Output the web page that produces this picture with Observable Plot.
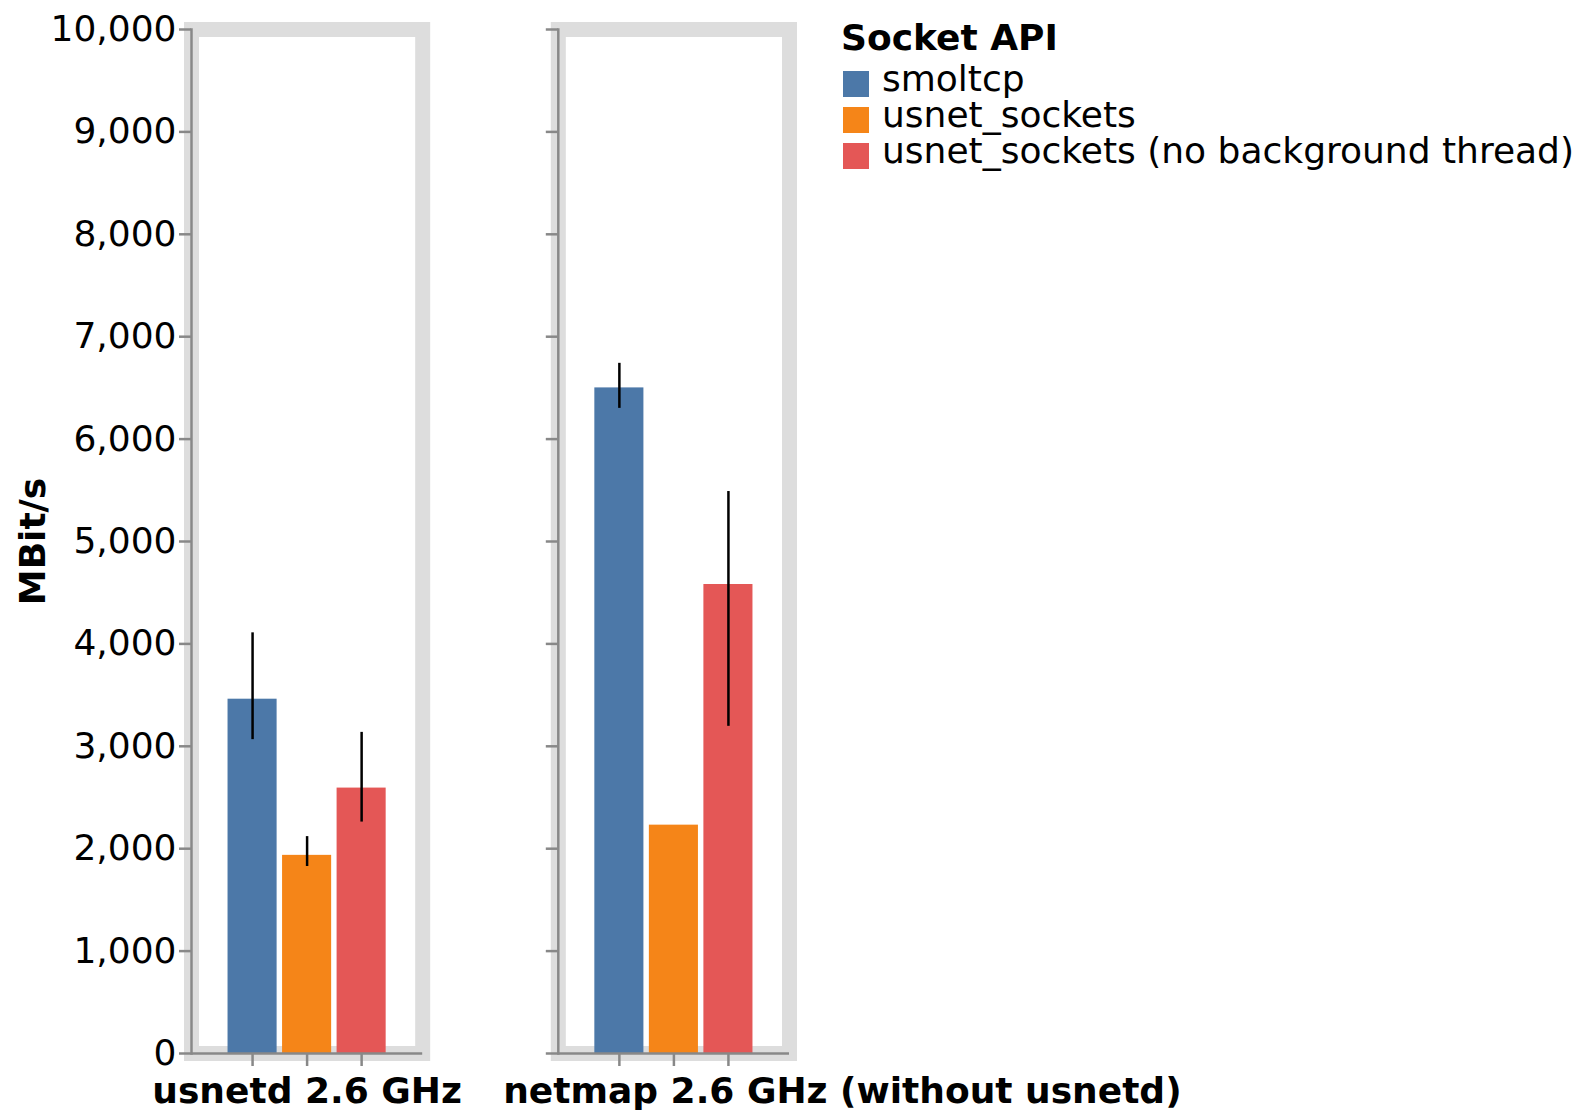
<!DOCTYPE html>
<html>
<head>
<meta charset="utf-8">
<script src="https://cdn.jsdelivr.net/npm/d3@7"></script>
<script src="https://cdn.jsdelivr.net/npm/@observablehq/plot@0.6"></script>
<style>
  body { margin: 0; background: #fff; font-family: "DejaVu Sans"; }
  #chart { position: absolute; left: 0; top: 0; }
  #legend { position: absolute; left: 841px; top: 20px; font-family: "DejaVu Sans"; font-size: 36px; color: #000; }
  #legend .title { font-weight: bold; height: 36px; line-height: 36px; margin-bottom: 5px; white-space: nowrap; }
  #legend .row { display: flex; height: 36px; line-height: 36px; white-space: nowrap; }
  #legend .sw { width: 26px; height: 26px; margin-top: 10px; margin-left: 2px; margin-right: 13px; flex: none; }
</style>
</head>
<body>
<div id="chart"></div>
<div id="legend"></div>
<script>
// ---- data ----
const groups = ["usnetd 2.6 GHz", "netmap 2.6 GHz (without usnetd)"];
const series = ["smoltcp", "usnet_sockets", "usnet_sockets (no background thread)"];
const colors = ["#4c78a8", "#f58518", "#e45756"];

const usnetdMean = [3460, 1935, 2592];
const usnetdLo   = [3065, 1826, 2260];
const usnetdHi   = [4108, 2118, 3136];

const netmapMean = [6500, 2230, 4580];
const netmapLo   = [6300, null, 3195];
const netmapHi   = [6740, null, 5488];

const yTicks = [0, 1000, 2000, 3000, 4000, 5000, 6000, 7000, 8000, 9000, 10000];
const legendTitle = "Socket API";
const yLabel = "MBit/s";

// ---- table ----
const means = [usnetdMean, netmapMean], los = [usnetdLo, netmapLo], his = [usnetdHi, netmapHi];
const rows = groups.flatMap((g, gi) => series.map((s, si) => ({
  group: g, series: s, value: means[gi][si], lo: los[gi][si], hi: his[gi][si]
})));
const errRows = rows.filter(d => d.lo != null && d.hi != null);

const fs = 36;
const fmt = d3.format(",");
const chart = Plot.plot({
  width: 1583,
  height: 1113,
  marginLeft: 191,
  marginRight: 794,
  marginTop: 29,
  marginBottom: 60,
  style: { fontFamily: "DejaVu Sans", fontSize: fs + "px", color: "#000", background: "white" },
  fx: { domain: groups, paddingInner: 0.3697, paddingOuter: 0, round: false, axis: null },
  x: { domain: series, paddingInner: 0.1, paddingOuter: 0.67, round: false },
  y: { domain: [0, 10000] },
  color: { domain: series, range: colors },
  marks: [
    Plot.frame({ stroke: "#dddddd", strokeWidth: 15 }),
    Plot.barY(rows, { fx: "group", x: "series", y: "value", fill: "series" }),
    Plot.ruleX(errRows, { fx: "group", x: "series", y1: "lo", y2: "hi", stroke: "black", strokeWidth: 2.5 }),
    Plot.axisY({ ticks: yTicks, facetAnchor: null, tickSize: 12, tickFormat: () => "", label: null, stroke: "#888", strokeWidth: 2.5 }),
    Plot.axisY({ ticks: yTicks, tickSize: 0, tickPadding: 15, tickFormat: fmt, label: null, fontSize: fs, fill: "black" }),
    Plot.axisX({ tickSize: 13, tickFormat: () => "", label: null, stroke: "#888", strokeWidth: 2.5 }),
    Plot.frame({ anchor: "left", stroke: "#888", strokeWidth: 2.5 }),
    Plot.ruleY([0], { stroke: "#888", strokeWidth: 2.5 }),
    Plot.text([groups[0]], { fx: [groups[0]], frameAnchor: "bottom", textAnchor: "middle", lineAnchor: "middle", dy: 37.5, fontWeight: "bold", fontSize: fs, fill: "black" }),
    Plot.text([groups[1]], { fx: [groups[1]], frameAnchor: "bottom", textAnchor: "middle", lineAnchor: "middle", dx: 168.5, dy: 37.5, fontWeight: "bold", fontSize: fs, fill: "black" }),
    Plot.text([yLabel], { fx: [groups[0]], frameAnchor: "left", textAnchor: "middle", lineAnchor: "middle", rotate: -90, dx: -158.5, fontWeight: "bold", fontSize: fs, fill: "black" })
  ]
});
document.getElementById("chart").append(chart);

// ---- legend ----
const leg = document.getElementById("legend");
const t = document.createElement("div");
t.className = "title";
t.textContent = legendTitle;
leg.append(t);
series.forEach((s, i) => {
  const r = document.createElement("div");
  r.className = "row";
  const sw = document.createElement("div");
  sw.className = "sw";
  sw.style.background = colors[i];
  const lab = document.createElement("span");
  lab.textContent = s;
  r.append(sw, lab);
  leg.append(r);
});
</script>
</body>
</html>
